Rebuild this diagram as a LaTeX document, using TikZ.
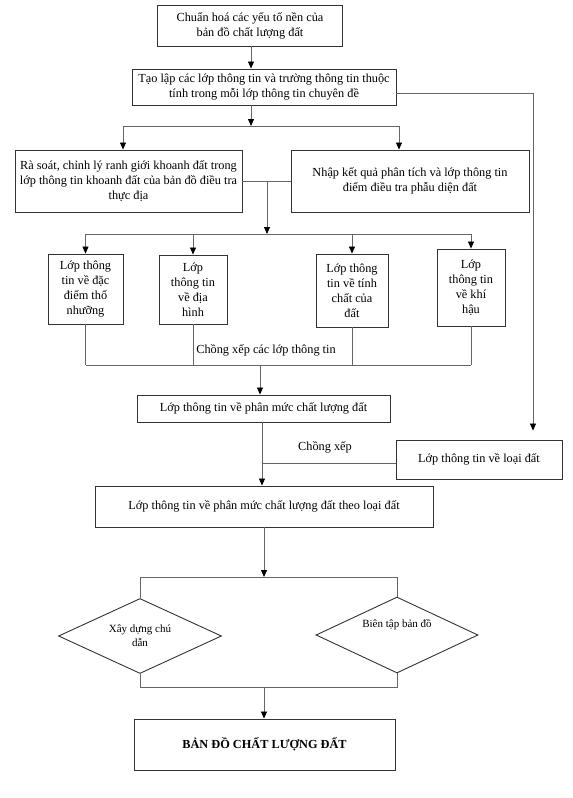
\documentclass[tikz,border=0pt]{standalone}
\usepackage{fontspec}
\setmainfont{Liberation Serif}
\usetikzlibrary{arrows.meta,shapes.geometric}

\begin{document}
\begin{tikzpicture}[x=1pt,y=-1pt,
  font=\fontsize{12.3}{15}\selectfont,
  box/.style={draw=black!80,line width=0.9pt,inner sep=0pt,align=center},
  dia/.style={draw=black!80,line width=0.9pt,diamond,aspect=2,inner sep=0pt,
    align=center,font=\fontsize{11}{14}\selectfont},
  link/.style={draw=black!60,line width=0.8pt},
  arr/.style={link,-{Triangle[length=7pt,width=6pt,color=black]}}]
\useasboundingbox (0,0) rectangle (573,798);
\node[box,minimum width=185pt,minimum height=41pt] (chuan) at (250,25.5)
  {Chuẩn hoá các yếu tố nền của\\bản đồ chất lượng đất};
\node[box,minimum width=264pt,minimum height=36pt] (taolap) at (264,87)
  {Tạo lập các lớp thông tin và trường thông tin thuộc\\tính trong mỗi lớp thông tin chuyên đề};
\node[box,minimum width=227pt,minimum height=62pt] (rasoat) at (128.5,181)
  {Rà soát, chỉnh lý ranh giới khoanh đất trong\\lớp thông tin khoanh đất của bản đồ điều tra\\thực địa};
\node[box,minimum width=238pt,minimum height=62pt] (nhap) at (410,181)
  {Nhập kết quả phân tích và lớp thông tin\\điểm điều tra phẫu diện đất};
\node[box,minimum width=75pt,minimum height=70pt] (dacdiem) at (85.5,289)
  {Lớp thông\\tin về đặc\\điểm thổ\\nhưỡng};
\node[box,minimum width=68pt,minimum height=69pt] (diahinh) at (193,289.5)
  {Lớp\\thông tin\\về địa\\hình};
\node[box,minimum width=72pt,minimum height=73pt] (tinhchat) at (352,290.5)
  {Lớp thông\\tin về tính\\chất của\\đất};
\node[box,minimum width=68pt,minimum height=77pt] (khihau) at (471,287.5)
  {Lớp\\thông tin\\về khí\\hậu};
\node (chong1) at (266,350) {Chồng xếp các lớp thông tin};
\node[box,minimum width=253pt,minimum height=27pt] (phanmuc) at (263.5,408.5)
  {Lớp thông tin về phân mức chất lượng đất};
\node[box,minimum width=166pt,minimum height=39pt] (loaidat) at (479,459.5)
  {Lớp thông tin về loại đất};
\node (chong2) at (325,447) {Chồng xếp};
\node[box,minimum width=338pt,minimum height=41pt] (theoloai) at (264,506.5)
  {Lớp thông tin về phân mức chất lượng đất theo loại đất};
\node[dia,minimum width=163pt,minimum height=75pt] (xaydung) at (140,636)
  {Xây dựng chú\\dẫn};
\node[dia,minimum width=162pt,minimum height=76pt] (bientap) at (397,635)
  {\raisebox{10pt}[\height][\depth]{Biên tập bản đồ}};
\node[box,minimum width=261pt,minimum height=51pt,font=\fontsize{12.3}{15}\selectfont\bfseries] (bando) at (264.5,744.5)
  {BẢN ĐỒ CHẤT LƯỢNG ĐẤT};
\coordinate (s1) at (251,126);
\coordinate (s1l) at (123,126);
\coordinate (s1r) at (399,126);
\coordinate (r1) at (533,93);
\coordinate (s2) at (267,234);
\coordinate (s3) at (260,365);
\coordinate (s4) at (262,463);
\coordinate (s5) at (264,577);
\coordinate (s6) at (264,687);
\draw[arr] (chuan.south -| s1) -- (taolap.north -| s1);
\draw[arr] (taolap.south -| s1) -- (s1);
\draw[link] (s1l) -- (s1r);
\draw[arr] (s1l) -- (s1l |- rasoat.north);
\draw[arr] (s1r) -- (s1r |- nhap.north);
\draw[arr,shorten >=9pt] (taolap.east |- r1) -- (r1) -- (r1 |- loaidat.north);
\draw[link] (rasoat) -- (nhap);
\draw[arr] (s2 |- rasoat.east) -- (s2);
\draw[link] (dacdiem.north |- s2) -- (khihau.north |- s2);
\foreach \n in {dacdiem,diahinh,tinhchat,khihau}
  \draw[arr] (\n.north |- s2) -- (\n.north);
\foreach \n in {dacdiem,diahinh,tinhchat,khihau}
  \draw[link] (\n.south) -- (\n.south |- s3);
\draw[link] (dacdiem.south |- s3) -- (khihau.south |- s3);
\draw[arr] (s3) -- (s3 |- phanmuc.north);
\draw[arr] (phanmuc.south -| s4) -- (s4 |- theoloai.north);
\draw[link] (loaidat.west |- s4) -- (s4);
\draw[arr] (theoloai.south -| s5) -- (s5);
\draw[link] (xaydung.north) -- (xaydung.north |- s5) -- (bientap.north |- s5) -- (bientap.north);
\draw[link] (xaydung.south) -- (xaydung.south |- s6) -- (bientap.south |- s6) -- (bientap.south);
\draw[arr] (s6) -- (s6 |- bando.north);
\end{tikzpicture}
\end{document}
